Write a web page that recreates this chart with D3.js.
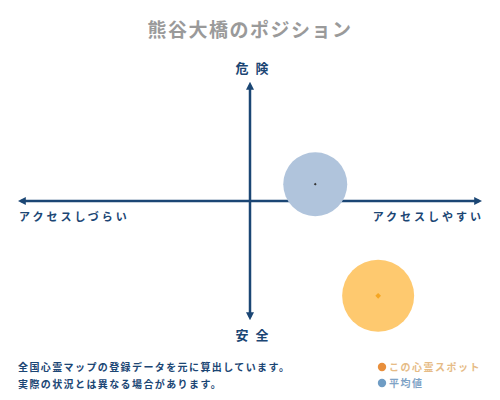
<!DOCTYPE html>
<html lang="ja">
  <head>
    <meta charset="UTF-8" />
    <title>ポジション</title>
    <script src="https://d3js.org/d3.v7.min.js"></script>
    <style>
      body { margin: 0; background: #fff; }
      text { font-family: "Noto Sans CJK JP", sans-serif; }
    </style>
  </head>
  <body>
    <script>
      // data
      var titulo = "熊谷大橋のポジション";
      var ejeX = ["アクセスしづらい", "アクセスしやすい"];
      var ejeY = ["安 全", "危 険"];
      var puntos = ["この心霊スポット", "平均値"];
      var valX = [0.55, 0.28];   // -1 .. 1
      var valY = [-0.79, 0.14];  // -1 .. 1
      var radios = [36, 32];
      var notas = [
        "全国心霊マップの登録データを元に算出しています。",
        "実際の状況とは異なる場合があります。"
      ];

      var w = 500, h = 400;
      var navy = "#1b4674";
      var relleno = ["#fec96f", "#b0c4dc"];
      var centro = ["#f5a623", "#333"];
      var leyenda = ["#e88f3c", "#6f9cc4"];
      var leyendaTxt = ["#e6bb86", "#7fa3c6"];

      var x = d3.scaleLinear().domain([-1, 1]).range([17, 483]);
      var y = d3.scaleLinear().domain([-1, 1]).range([321, 81]);

      var svg = d3.select("body").append("svg").attr("width", w).attr("height", h);

      var defs = svg.append("defs");
      defs.append("marker")
        .attr("id", "flecha")
        .attr("viewBox", "0 0 10 10")
        .attr("refX", 6).attr("refY", 5)
        .attr("markerWidth", 3.2).attr("markerHeight", 3.2)
        .attr("orient", "auto-start-reverse")
        .append("path")
        .attr("d", "M0,0 L10,5 L0,10 z")
        .style("fill", navy);

      // titulo
      svg.append("text")
        .attr("x", 250).attr("y", 37)
        .attr("text-anchor", "middle")
        .style("font-size", "19px").style("font-weight", "bold")
        .style("letter-spacing", "1.5px")
        .style("fill", "#9a9a9a")
        .text(titulo);

      // ejes
      svg.append("line")
        .attr("x1", x(-1) + 4).attr("x2", x(1) - 4)
        .attr("y1", y(0)).attr("y2", y(0))
        .attr("stroke", navy).attr("stroke-width", 2.5)
        .attr("marker-start", "url(#flecha)").attr("marker-end", "url(#flecha)");

      svg.append("line")
        .attr("x1", x(0)).attr("x2", x(0))
        .attr("y1", y(-1) - 4).attr("y2", y(1) + 4)
        .attr("stroke", navy).attr("stroke-width", 2.5)
        .attr("marker-start", "url(#flecha)").attr("marker-end", "url(#flecha)");

      // etiquetas ejes
      svg.append("text").attr("x", 19).attr("y", 221)
        .style("font-size", "11px").style("font-weight", "bold")
        .style("letter-spacing", "3px").style("fill", navy)
        .text(ejeX[0]);
      svg.append("text").attr("x", 484).attr("y", 221)
        .attr("text-anchor", "end")
        .style("font-size", "11px").style("font-weight", "bold")
        .style("letter-spacing", "3px").style("fill", navy)
        .text(ejeX[1]);

      svg.append("text").attr("x", 253).attr("y", 73)
        .attr("text-anchor", "middle")
        .style("font-size", "13px").style("font-weight", "bold")
        .style("letter-spacing", "2px").style("fill", navy)
        .text(ejeY[1]);
      svg.append("text").attr("x", 253).attr("y", 340)
        .attr("text-anchor", "middle")
        .style("font-size", "13px").style("font-weight", "bold")
        .style("letter-spacing", "2px").style("fill", navy)
        .text(ejeY[0]);

      // circulos (promedio primero, abajo)
      var orden = [1, 0];
      svg.selectAll("circle.punto")
        .data(orden)
        .enter()
        .append("circle")
        .attr("class", "punto")
        .attr("cx", (i) => x(valX[i]))
        .attr("cy", (i) => y(valY[i]))
        .attr("r", (i) => radios[i])
        .style("fill", (i) => relleno[i]);

      svg.selectAll("rect.centro")
        .data(orden)
        .enter()
        .append("rect")
        .attr("class", "centro")
        .attr("x", (i) => x(valX[i]) - (i == 0 ? 2 : 1))
        .attr("y", (i) => y(valY[i]) - (i == 0 ? 2 : 1))
        .attr("width", (i) => (i == 0 ? 4 : 2))
        .attr("height", (i) => (i == 0 ? 4 : 2))
        .attr("transform", (i) => "rotate(45," + x(valX[i]) + "," + y(valY[i]) + ")")
        .style("fill", (i) => centro[i]);

      // notas
      svg.selectAll("text.nota")
        .data(notas)
        .enter()
        .append("text")
        .attr("class", "nota")
        .attr("x", 18)
        .attr("y", (d, i) => 371 + i * 17)
        .style("font-size", "10px").style("font-weight", "bold")
        .style("letter-spacing", "1.4px")
        .style("fill", navy)
        .text((d) => d);

      // leyenda
      var gl = svg.selectAll("g.leyenda")
        .data(puntos)
        .enter()
        .append("g")
        .attr("class", "leyenda")
        .attr("transform", (d, i) => "translate(382," + (367 + i * 16) + ")");
      gl.append("circle").attr("r", 4.2).style("fill", (d, i) => leyenda[i]);
      gl.append("text").attr("x", 7).attr("y", 4)
        .style("font-size", "10px").style("font-weight", "bold")
        .style("letter-spacing", "1.5px")
        .style("fill", (d, i) => leyendaTxt[i])
        .text((d) => d);
    </script>
  </body>
</html>
